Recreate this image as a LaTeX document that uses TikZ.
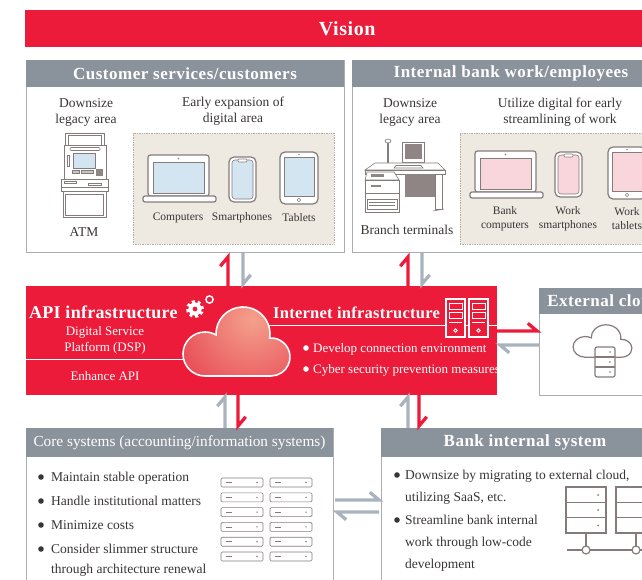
\documentclass[tikz,border=0pt]{standalone}
\usepackage{fontspec}
\setmainfont{Liberation Serif}
\newfontfamily\headfont[LetterSpace=3]{Liberation Serif}
\newfontfamily\bandfont[LetterSpace=1.5]{Liberation Serif}
\usetikzlibrary{calc}

\definecolor{brandred}{HTML}{EC1B3A}
\definecolor{hdrgray}{HTML}{8A929C}
\definecolor{boxline}{HTML}{A9ADB2}
\definecolor{beige}{HTML}{EEEAE2}
\definecolor{dotline}{HTML}{B3ADA4}
\definecolor{iconline}{HTML}{857B7B}
\definecolor{termgray}{HTML}{8F8585}
\definecolor{btngray}{HTML}{C9C4C4}
\definecolor{screenblue}{HTML}{D4E5F2}
\definecolor{screenpink}{HTML}{F8D6DB}
\definecolor{arrgray}{HTML}{A9B3BE}
\definecolor{txt}{HTML}{3A3535}
\definecolor{cloudhi}{HTML}{F4A08C}
\definecolor{cloudlo}{HTML}{E9525A}

\newcommand\fsHead{\headfont\fontsize{17}{20}\selectfont\bfseries}
\newcommand\fsBody{\fontsize{13.5}{16}\selectfont}
\newcommand\fsLabel{\fontsize{11.5}{14}\selectfont}
\newcommand\fsBand{\fontsize{13}{16}\selectfont}
% three-bump cloud outline (left, main and right bump on a flat base)
\newcommand\cloudshape{(205,-376) arc[start angle=270, end angle=60, radius=22]
  arc[start angle=182.04, end angle=-8.6, radius=27]
  arc[start angle=93.95, end angle=-90, radius=19] -- cycle}

\begin{document}
\begin{tikzpicture}[x=1pt, y=1pt,
  panel/.style={draw=boxline, line width=0.9pt, fill=white, inner sep=0pt, outer sep=0pt, anchor=north west},
  headbar/.style={fill=hdrgray, inner sep=0pt, outer sep=0pt, anchor=north west, text=white, font=\fsHead},
  bodytext/.style={text=txt, font=\fsBody, align=center, inner sep=0pt},
  labeltext/.style={text=txt, font=\fsLabel, align=center, inner sep=0pt},
  bandtext/.style={text=white, font=\fsBand, align=center, inner sep=0pt},
  itemtext/.style={text=txt, font=\fsBody, anchor=base west, inner sep=0pt},
  banditem/.style={text=white, font=\fsBand, anchor=base west, inner sep=0pt},
  bandtitle/.style={text=white, anchor=base west, inner sep=0pt},
  zone/.style={fill=beige, draw=dotline, line width=0.6pt, dash pattern=on 0.7pt off 1pt, inner sep=0pt, outer sep=0pt, anchor=north west},
  icon/.style={draw=iconline, line width=1.2pt},
  thinicon/.style={draw=iconline, line width=0.6pt},
  % one-sided (harpoon) connector: shaft plus a single barb on the left of travel
  harp/.style={line width=3.3pt, line join=miter, line cap=butt,
    to path={-- (\tikztotarget) -- ($(\tikztotarget)!12pt!-40:(\tikztostart)$)}},
  redharp/.style={harp, draw=brandred},
  grayharp/.style={harp, draw=arrgray},
  pics/laptop/.style={code={
    \draw[icon, fill=white, rounded corners=2.5pt] (0,0) rectangle (61,-41);
    \draw[thinicon, fill=#1] (5,-7) rectangle (56,-38);
    \fill[iconline] (30.5,-3.5) circle (0.9);
    \draw[icon, fill=white, rounded corners=2pt] (-5,-41) rectangle (68,-47);
  }},
  pics/phone/.style={code={
    \draw[icon, fill=white, rounded corners=5pt] (0,0) rectangle (27,-45);
    \draw[thinicon, fill=#1, rounded corners=3pt] (3,-3) rectangle (24,-42);
    \draw[thinicon, fill=white, rounded corners=1pt] (9,-2) rectangle (18,-5);
  }},
  pics/tablet/.style={code={
    \draw[icon, fill=white, rounded corners=5pt] (0,0) rectangle (38,-52);
    \draw[thinicon, fill=#1] (4,-5) rectangle (34,-44);
    \fill[iconline] (19,-2.6) circle (0.8);
    \draw[thinicon] (19,-48) circle (1.8);
  }},
]
\useasboundingbox (0,0) rectangle (642,-580);
\clip (0,0) rectangle (642,-580);

% ---------- vision bar ----------
\node[fill=brandred, minimum width=644pt, minimum height=37pt, anchor=north west, inner sep=0pt,
      text=white, font=\headfont\fontsize{20}{24}\selectfont\bfseries] (vision) at (25,-10) {Vision};

% ---------- customer side ----------
\node[panel, minimum width=318pt, minimum height=192pt] (cust) at (26,-60) {};
\node[headbar, minimum width=318pt, minimum height=27pt] (custhd) at (cust.north west) {Customer services/customers};
\node[bodytext] (custlegacy) at (86,-112) {Downsize\\legacy area};
\node[bodytext] (custdigital) at (233,-111) {Early expansion of\\digital area};
\node[zone, minimum width=201pt, minimum height=111pt] (custzone) at (133,-133) {};

% ATM
\draw[thinicon, fill=white] (65,-133) rectangle (104,-145);
\draw[thinicon] (68,-135) -- (68,-145) (101,-135) -- (101,-145) (68,-135) -- (101,-135);
\draw[thinicon, fill=white] (64,-145) rectangle (106,-179);
\draw[thinicon, rounded corners=1pt] (70,-147.5) rectangle (100,-150.5);
\draw[thinicon] (67,-155) rectangle (69.5,-166);
\draw[thinicon, fill=screenblue] (73,-153) rectangle (95,-168);
\draw[thinicon, fill=btngray] (72,-170.5) rectangle (79,-173.5);
\draw[thinicon, fill=btngray] (81,-170.5) rectangle (93,-173.5);
\fill[termgray] (96,-169.5) rectangle (103,-176);
\draw[thinicon, fill=white] (61,-179) rectangle (108,-191);
\draw[thinicon] (64,-181) rectangle (76,-183);
\draw[thinicon] (88,-183) rectangle (101,-185);
\draw[thinicon] (61,-187) -- (108,-187);
\draw[thinicon, fill=white] (63,-191) rectangle (106,-217);
\draw[thinicon] (65.5,-194) rectangle (103.5,-215);
\node[bodytext] (atm) at (84,-232) {ATM};

\pic at (148,-155) {laptop=screenblue};
\pic at (229,-157) {phone=screenblue};
\pic at (280,-152) {tablet=screenblue};
\node[labeltext] (computers) at (178,-218) {Computers};
\node[labeltext] (smartphones) at (242,-218) {Smartphones};
\node[labeltext] (tablets) at (299,-218) {Tablets};

% ---------- employee side ----------
\node[panel, minimum width=318pt, minimum height=192pt] (intern) at (352,-60) {};
\node[headbar, minimum width=318pt, minimum height=27pt] (internhd) at (intern.north west) {Internal bank work/employees};
\node[bodytext] (internlegacy) at (410,-112) {Downsize\\legacy area};
\node[bodytext] (interndigital) at (560,-112) {Utilize digital for early\\streamlining of work};
\node[zone, minimum width=200pt, minimum height=111pt] (internzone) at (460,-133) {};

% branch terminal: scanner, monitor, desk and printer cabinet
\draw[thinicon, fill=white] (388,-141) ellipse (3 and 2);
\draw[iconline, line width=1.4pt] (388,-143) -- (388,-164);
\draw[thinicon, fill=white] (402,-142) rectangle (424,-162);
\fill[termgray] (404.5,-144.5) rectangle (421.5,-159.5);
\draw[thinicon] (411,-162) -- (411,-164.5) (415,-162) -- (415,-164.5);
\draw[thinicon, fill=white] (375,-163) -- (438,-163) -- (445,-170) -- (365,-170) -- cycle;
\draw[thinicon] (396,-165.5) -- (421,-165.5) -- (423,-168) -- (394,-168) -- cycle;
\draw[thinicon, fill=white] (365,-170) rectangle (445,-174);
\fill[termgray] (405,-174) rectangle (435,-197);
\draw[thinicon, fill=white] (435,-174) rectangle (442,-209);
\draw[thinicon] (433,-211) -- (444,-209);
\draw[thinicon, fill=white] (365,-180) rectangle (399,-212);
\draw[thinicon, fill=white] (367,-172) -- (394,-172) -- (399,-180) -- (365,-180) -- cycle;
\fill[termgray] (371,-174.5) rectangle (384,-177.5);
\fill[termgray] (371,-185) rectangle (381,-187);
\draw[thinicon] (365,-193) -- (399,-193);
\draw[thinicon] (367,-199) rectangle (397,-209);
\draw[thinicon] (369,-202.5) -- (395,-202.5) (369,-205.5) -- (395,-205.5);
\node[bodytext] (branch) at (407,-230) {Branch terminals};

\pic at (475,-151) {laptop=screenpink};
\pic at (555,-152) {phone=screenpink};
\pic at (608,-147) {tablet=screenpink};
\node[labeltext] (bankpc) at (505,-219) {Bank\\computers};
\node[labeltext] (worksp) at (568,-219) {Work\\smartphones};
\node[labeltext] (worktab) at (627,-219) {Work\\tablets};

% ---------- infrastructure band ----------
\node[fill=brandred, minimum width=471pt, minimum height=109pt, anchor=north west, inner sep=0pt, outer sep=0pt] (api) at (26,-286) {};
\node[bandtitle, font=\bandfont\fontsize{18}{20}\selectfont\bfseries] (apititle) at (29,-318) {API infrastructure};
% gear and small ring
\fill[white, even odd rule] (195,-309) circle (6.6) (195,-309) circle (2.6);
\draw[white, line width=3pt, dash pattern=on 2.9pt off 2.9pt] (195,-309) circle (7.4);
\draw[white, line width=1.5pt] (209.5,-299.5) circle (3.6);
\node[bandtext] (dsp) at (105,-340) {Digital Service\\Platform (DSP)};
\draw[white, line width=0.8pt] (26,-359) -- (188,-359);
\node[bandtext] (enhance) at (105,-376) {Enhance API};
\draw[white, line width=0.8pt] (268,-325) -- (497,-325);
\fill[cloudlo] \cloudshape;
\path[path picture={\shade[inner color=cloudhi, outer color=cloudlo] (252,-320) circle (76);}] \cloudshape;
\draw[white, line width=1.6pt] \cloudshape;
\node[bandtitle, font=\bandfont\fontsize{16.5}{20}\selectfont\bfseries] (nettitle) at (273,-318) {Internet infrastructure};
% twin servers
\foreach \sx in {446,469} {
  \draw[white, line width=1.1pt, fill=brandred] (\sx,-299) rectangle ++(19,-38);
  \draw[white, line width=0.8pt] (\sx+3,-303) rectangle ++(13,-6);
  \draw[white, line width=0.8pt] (\sx+3,-312) rectangle ++(13,-6);
  \draw[white, line width=0.8pt] (\sx+3,-322) -- ++(13,0);
  \draw[white, line width=0.8pt] (\sx+9.5,-330.5) circle (1.8);
}
\fill[white] (306,-348) circle (2.8);
\fill[white] (306,-369) circle (2.8);
\node[banditem] (connenv) at (313,-352) {Develop connection environment};
\node[banditem] (cyber) at (313,-373) {Cyber security prevention measures};

% ---------- external cloud ----------
\node[panel, minimum width=130pt, minimum height=107pt] (ext) at (539,-288) {};
\node[headbar, minimum width=130pt, minimum height=26pt] (exthd) at (ext.north west) {External cloud};
\begin{scope}[shift={(602.5,-341)}, xscale=0.55, yscale=0.47, shift={(-236.5,341.5)}]
  \draw[iconline, line width=1.2pt] \cloudshape;
\end{scope}
\draw[icon, fill=white, rounded corners=2pt] (595,-347) rectangle (615,-377);
\draw[iconline, line width=1.2pt] (595,-357) -- (615,-357) (595,-367) -- (615,-367);
\foreach \dy in {352,362,372} \fill[iconline] (610,-\dy) circle (0.9);

% ---------- core systems ----------
\node[panel, minimum width=307pt, minimum height=200pt] (core) at (26,-428) {};
\node[headbar, minimum width=307pt, minimum height=29pt, font=\fontsize{15.3}{18}\selectfont] (corehd) at (core.north west) {Core systems (accounting/information systems)};
\foreach \by in {477,501,525,549} \fill[txt] (41,-\by) circle (2.8);
\node[itemtext] (core1) at (51,-481) {Maintain stable operation};
\node[itemtext] (core2) at (51,-505) {Handle institutional matters};
\node[itemtext] (core3) at (51,-529) {Minimize costs};
\node[itemtext] (core4) at (51,-553) {Consider slimmer structure};
\node[itemtext] (core5) at (51,-573) {through architecture renewal};
% rack of twelve server units
\foreach \r in {0,...,5} \foreach \cx in {221,270} {
  \draw[thinicon, rounded corners=1.2pt] (\cx,-478-14.8*\r) rectangle ++(42,-9);
  \draw[thinicon] (\cx+5,-482.5-14.8*\r) -- ++(6,0);
  \fill[iconline] (\cx+36,-482.5-14.8*\r) circle (0.8);
}

% ---------- bank internal system ----------
\node[panel, minimum width=288pt, minimum height=200pt] (bank) at (381,-428) {};
\node[headbar, minimum width=288pt, minimum height=29pt] (bankhd) at (bank.north west) {Bank internal system};
\fill[txt] (397,-475) circle (2.8);
\fill[txt] (397,-520) circle (2.8);
\node[itemtext] (bank1) at (405,-479) {Downsize by migrating to external cloud,};
\node[itemtext] (bank2) at (405,-501) {utilizing SaaS, etc.};
\node[itemtext] (bank3) at (405,-524) {Streamline bank internal};
\node[itemtext] (bank4) at (405,-546) {work through low-code};
\node[itemtext] (bank5) at (405,-568) {development};
% networked servers
\foreach \sx in {566,616} {
  \draw[icon] (\sx,-487) rectangle ++(40,-46);
  \draw[icon] (\sx,-502.3) -- ++(40,0) (\sx,-517.7) -- ++(40,0);
  \foreach \dy in {495,510,525.5} \fill[iconline] (\sx+32,-\dy) circle (1);
  \draw[icon] (\sx+20,-533) -- ++(0,-13);
  \draw[icon] (\sx+20,-550) circle (4);
}
\draw[icon] (567,-550) -- (582,-550) (590,-550) -- (632,-550) (640,-550) -- (660,-550);

% ---------- connectors ----------
\coordinate (c1) at (228,0);
\coordinate (c2) at (243,0);
\coordinate (c3) at (408,0);
\coordinate (c4) at (422,0);
\coordinate (c5) at (225,0);
\coordinate (c6) at (238,0);
\coordinate (c7) at (408,0);
\coordinate (c8) at (419,0);
\coordinate (r1) at (0,-331);
\coordinate (r2) at (0,-345);
\coordinate (r3) at (0,-500);
\coordinate (r4) at (0,-512);
\draw[redharp] (c1 |- api.north) to ([yshift=-5pt]c1 |- cust.south);
\draw[grayharp] ([yshift=-1pt]c2 |- cust.south) to ([yshift=2pt]c2 |- api.north);
\draw[redharp] (c3 |- api.north) to ([yshift=-5pt]c3 |- intern.south);
\draw[grayharp] ([yshift=-1pt]c4 |- intern.south) to ([yshift=2pt]c4 |- api.north);
\draw[redharp] (api.east |- r1) to ([xshift=-2pt]ext.west |- r1);
\draw[grayharp] (ext.west |- r2) to ([xshift=3pt]api.east |- r2);
\draw[grayharp] (c5 |- core.north) to ([yshift=-2pt]c5 |- api.south);
\draw[redharp] (c6 |- api.south) to ([yshift=2pt]c6 |- core.north);
\draw[grayharp] (c7 |- bank.north) to ([yshift=-2pt]c7 |- api.south);
\draw[redharp] (c8 |- api.south) to ([yshift=2pt]c8 |- bank.north);
\draw[grayharp] ([xshift=2pt]core.east |- r3) to ([xshift=-2pt]bank.west |- r3);
\draw[grayharp] ([xshift=-2pt]bank.west |- r4) to ([xshift=4pt]core.east |- r4);
\end{tikzpicture}
\end{document}
